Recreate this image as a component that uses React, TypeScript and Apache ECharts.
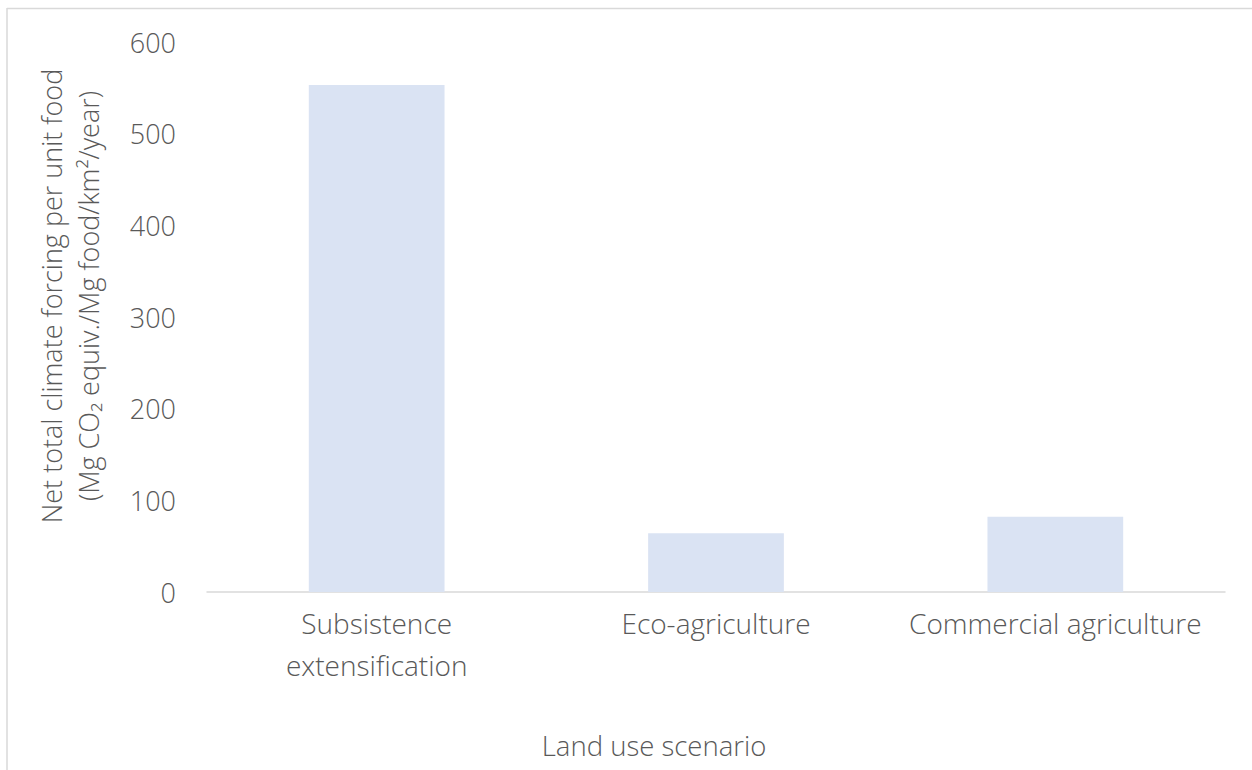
import React, { useEffect, useRef } from "react";
import * as echarts from "echarts";

// Land use scenarios and their net climate forcing per unit food
const scenarios: string[] = ["Subsistence\nextensification", "Eco-agriculture", "Commercial agriculture"];
const forcingValues: number[] = [553, 64, 82];
const yTicks = { min: 0, max: 600, interval: 100 };

const yTitleLine1 = "Net total climate forcing per unit food";
const yTitleLine2 = "(Mg CO₂ equiv./Mg food/km²/year)";
const xTitle = "Land use scenario";

const TEXT = "#595959";
const FONT = "'Open Sans', 'Noto Sans', sans-serif";
const WEIGHT = 350;

export default function App() {
  const ref = useRef<HTMLDivElement>(null);

  useEffect(() => {
    if (!ref.current) return;
    const chart = echarts.init(ref.current, undefined, { renderer: "svg" });
    chart.setOption({
      animation: false,
      backgroundColor: "#ffffff",
      textStyle: { fontFamily: FONT },
      grid: { left: 207, right: 27, top: 42, bottom: 178, containLabel: false },
      xAxis: {
        type: "category",
        data: scenarios,
        axisLine: { show: true, lineStyle: { color: "#D9D9D9", width: 1.5 } },
        axisTick: { show: false },
        axisLabel: {
          color: TEXT,
          fontFamily: FONT,
          fontWeight: WEIGHT,
          fontSize: 28,
          lineHeight: 42,
          margin: 10,
          interval: 0,
        },
        splitLine: { show: false },
      },
      yAxis: {
        type: "value",
        min: yTicks.min,
        max: yTicks.max,
        interval: yTicks.interval,
        axisLine: { show: false },
        axisTick: { show: false },
        splitLine: { show: false },
        axisLabel: { color: TEXT, fontFamily: FONT, fontWeight: WEIGHT, fontSize: 27, margin: 31 },
      },
      series: [
        {
          type: "bar",
          data: forcingValues,
          barWidth: "40%",
          itemStyle: { color: "#DAE3F3" },
        },
      ],
      graphic: [
        // chart frame (top and left edges)
        { type: "line", shape: { x1: 7, y1: 8.5, x2: 1252, y2: 8.5 }, style: { stroke: "#D9D9D9", lineWidth: 1.5 } },
        { type: "line", shape: { x1: 7, y1: 8, x2: 7, y2: 770 }, style: { stroke: "#D9D9D9", lineWidth: 1.5 } },
        {
          type: "text",
          x: 70,
          y: 296,
          rotation: Math.PI / 2,
          style: {
            text: yTitleLine1 + "\n" + yTitleLine2,
            fill: TEXT,
            font: `${WEIGHT} 27px ${FONT}`,
            lineHeight: 37,
            align: "center",
            verticalAlign: "middle",
          },
        },
        {
          type: "text",
          x: 654,
          y: 745,
          style: {
            text: xTitle,
            fill: TEXT,
            font: `${WEIGHT} 27.5px ${FONT}`,
            align: "center",
            verticalAlign: "middle",
          },
        },
      ],
    });
    return () => chart.dispose();
  }, []);

  return (
    <div
      ref={ref}
      style={{ position: "absolute", left: 0, top: 0, width: 1252, height: 770 }}
    />
  );
}
